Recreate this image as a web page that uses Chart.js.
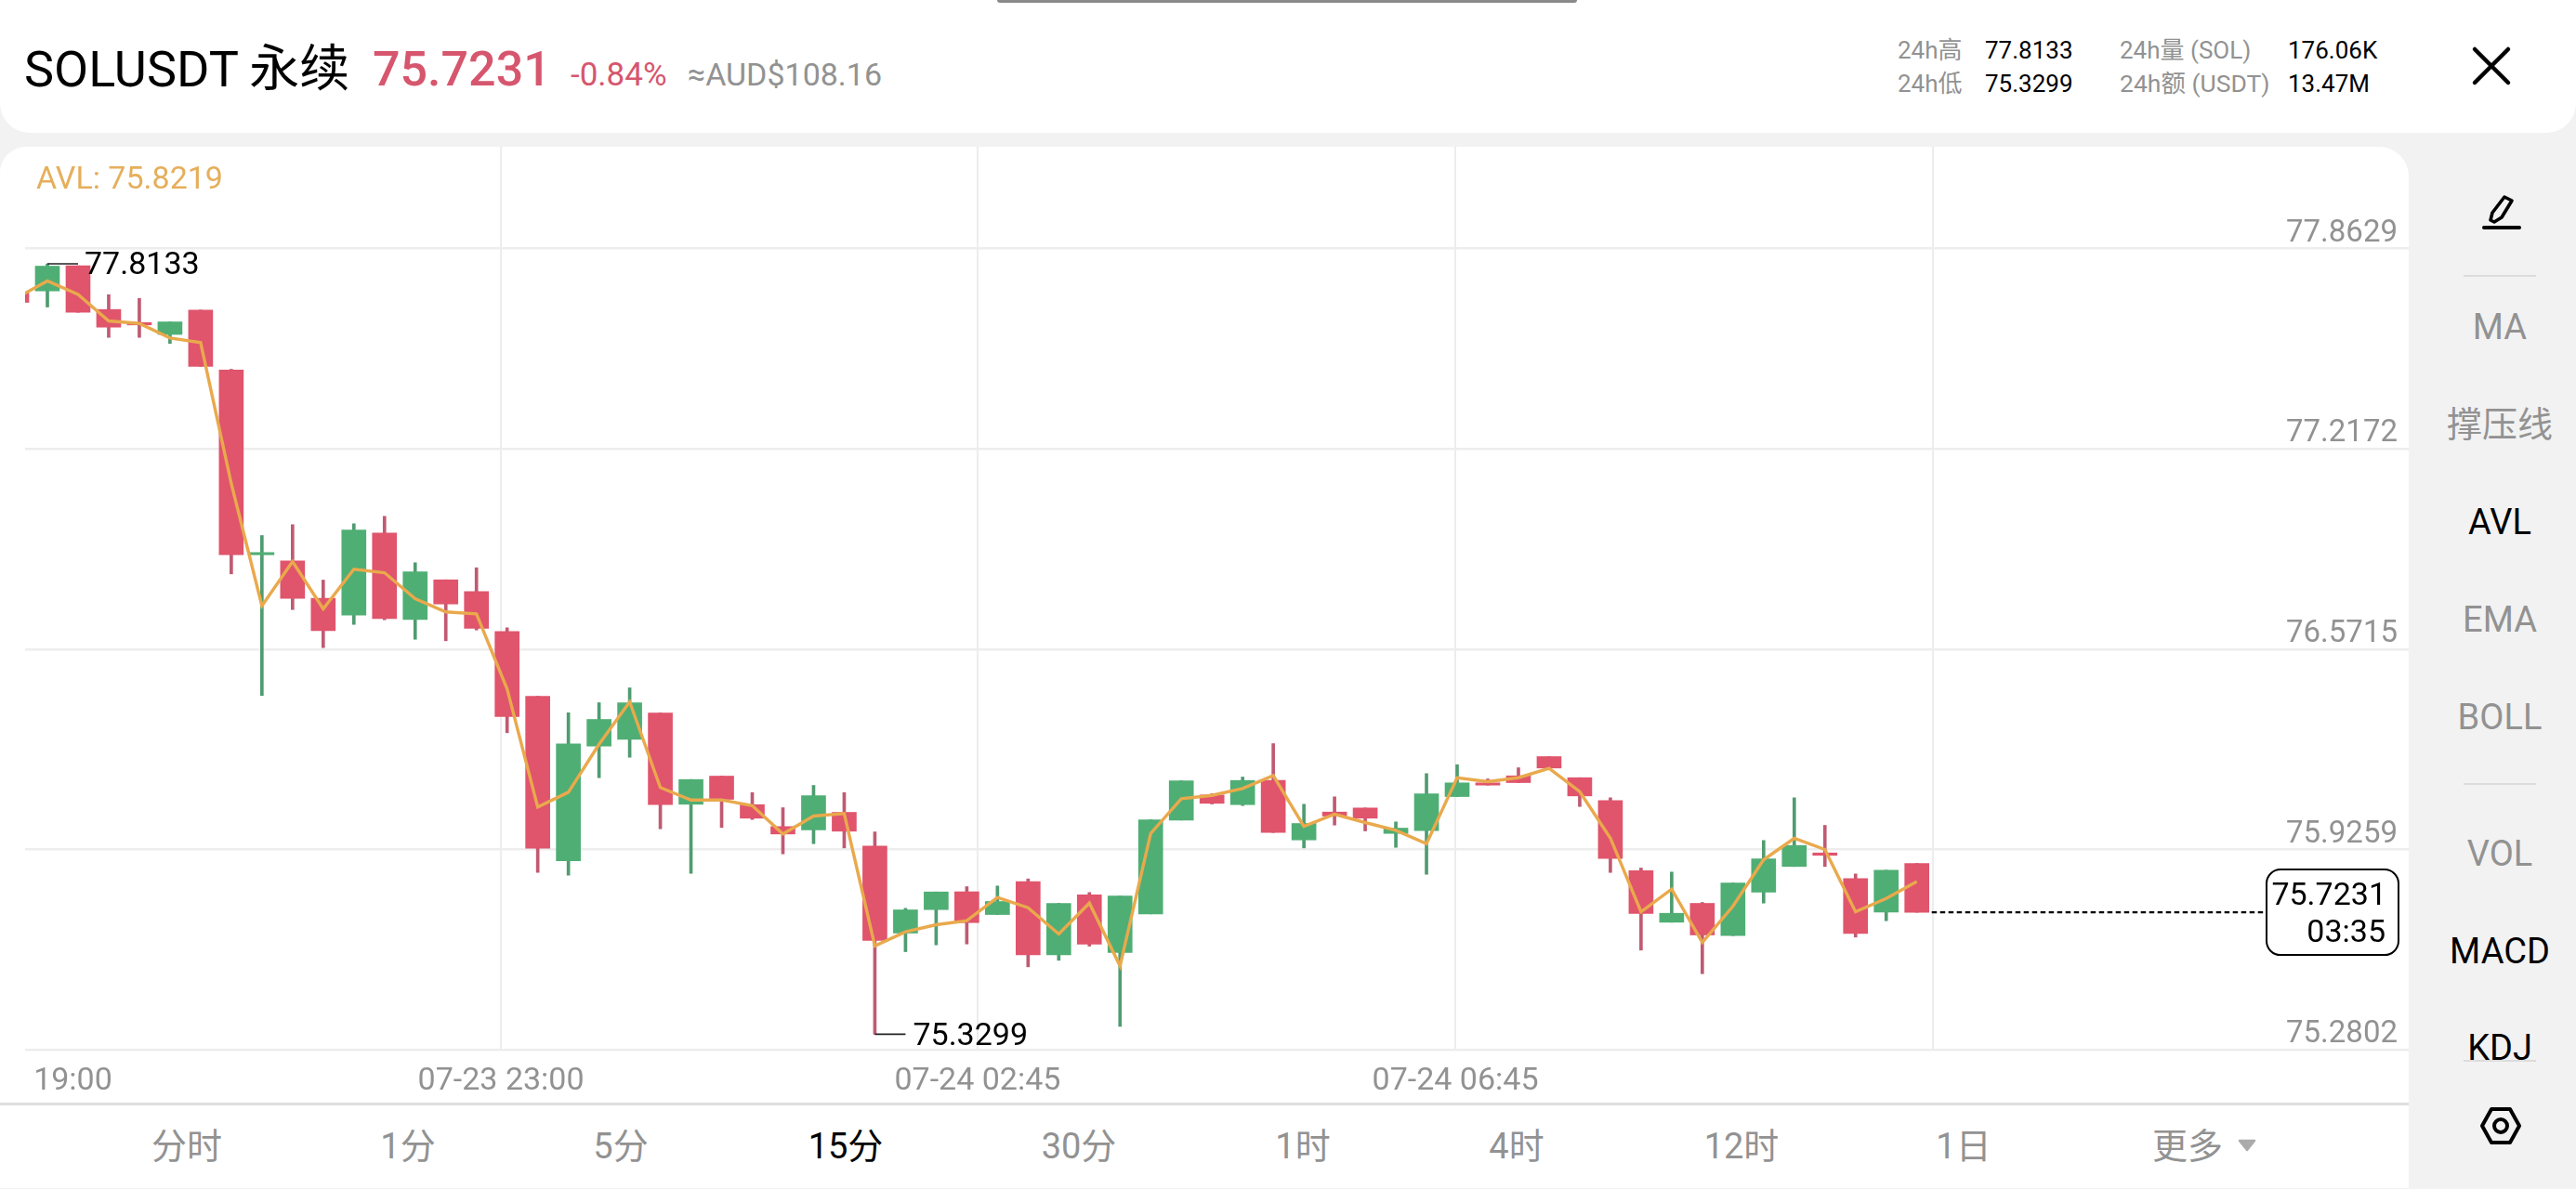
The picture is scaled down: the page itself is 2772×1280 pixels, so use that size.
<!DOCTYPE html>
<html lang="zh-CN">
<head>
<meta charset="utf-8">
<title>SOLUSDT 永续 15分</title>
<script src="https://cdn.jsdelivr.net/npm/chart.js@4/dist/chart.umd.min.js"></script>
<style>
  html, body { margin: 0; padding: 0; width: 2772px; height: 1280px; overflow: hidden; background: #f2f2f2;
    font-family: Roboto, "Noto Sans CJK SC", sans-serif; }
  .abs { position: absolute; }
  .t { position: absolute; white-space: nowrap; line-height: 1; transform: translateY(-50%); }
  .c { transform: translate(-50%, -50%); }
  .grey { color: #929292; }
  .dark { color: #000; }
  #header { left: 0; top: 0; width: 2772px; height: 143px; background: #fff; border-radius: 0 0 32px 32px; }
  #handle { left: 1073px; top: 0; width: 624px; height: 3px; background: #8a8a8a; border-radius: 0 0 3px 3px; }
  #panel { left: 0; top: 158px; width: 2592px; height: 1122px; background: #fff; border-radius: 28px 32px 0 0; }
  #chart { position: absolute; left: 0; top: 158px; }
  #tabline { left: 0; top: 1187px; width: 2592px; height: 3px; background: #dedede; }
  #footline { left: 0; top: 1279px; width: 2592px; height: 1px; background: #f1f1f1; }
  .rule { left: 2651px; width: 78px; height: 2px; background: #dcdcdc; }
  .side { font-size: 38px; left: 2690px; }
  .tab { font-size: 38px; top: 1234px; }
</style>
</head>
<body>
<div class="abs" id="header"></div>
<div class="abs" id="handle"></div>
<div class="abs" id="panel"></div>

<span class="t dark" style="left:26px;top:75px;font-size:54px;word-spacing:-1px">SOLUSDT 永续</span>
<span class="t" style="left:401px;top:75px;font-size:52px;font-weight:500;color:#d6566e">75.7231</span>
<span class="t" style="left:614px;top:80px;font-size:35px;color:#d6566e">-0.84%</span>
<span class="t grey" style="left:740px;top:80px;font-size:34px">≈AUD$108.16</span>

<span class="t grey" style="left:2042px;top:54px;font-size:26px">24h高</span>
<span class="t dark" style="left:2136px;top:54px;font-size:26px">77.8133</span>
<span class="t grey" style="left:2281px;top:54px;font-size:26px">24h量 (SOL)</span>
<span class="t dark" style="left:2462px;top:54px;font-size:26px">176.06K</span>
<span class="t grey" style="left:2042px;top:90px;font-size:26px">24h低</span>
<span class="t dark" style="left:2136px;top:90px;font-size:26px">75.3299</span>
<span class="t grey" style="left:2281px;top:90px;font-size:26.5px">24h额 (USDT)</span>
<span class="t dark" style="left:2462px;top:90px;font-size:26px">13.47M</span>

<svg class="abs" style="left:2655px;top:45px" width="52" height="52" viewBox="0 0 52 52">
  <path d="M8 8 L44 44 M44 8 L8 44" stroke="#000" stroke-width="4.5" stroke-linecap="round" fill="none"/>
</svg>

<canvas id="chart" width="2592" height="1029"></canvas>

<div class="abs" id="tabline"></div>
<div class="abs" id="footline"></div>
<span class="t c tab grey" style="left:201px">分时</span>
<span class="t c tab grey" style="left:439px">1分</span>
<span class="t c tab grey" style="left:668px">5分</span>
<span class="t c tab dark" style="left:910px">15分</span>
<span class="t c tab grey" style="left:1161px">30分</span>
<span class="t c tab grey" style="left:1402px">1时</span>
<span class="t c tab grey" style="left:1632px">4时</span>
<span class="t c tab grey" style="left:1874px">12时</span>
<span class="t c tab grey" style="left:2113px">1日</span>
<span class="t c tab grey" style="left:2354px">更多</span>
<svg class="abs" style="left:2408px;top:1226px" width="20" height="14" viewBox="0 0 20 14">
  <path d="M2 2 H18 L10 12 Z" fill="#ababab" stroke="#ababab" stroke-width="2.5" stroke-linejoin="round"/>
</svg>

<svg class="abs" style="left:2670px;top:206px" width="44" height="44" viewBox="0 0 44 44">
  <path d="M10 31 L12 23 L25 6 L33 10 L22 28 L14 33 Z" stroke="#000" stroke-width="3.6" fill="none" stroke-linejoin="round"/>
  <path d="M3 39 H41" stroke="#000" stroke-width="4" stroke-linecap="round"/>
</svg>
<div class="abs rule" style="top:296px"></div>
<span class="t c side grey" style="top:352px">MA</span>
<span class="t c side grey" style="top:457px">撑压线</span>
<span class="t c side dark" style="top:562px">AVL</span>
<span class="t c side grey" style="top:667px">EMA</span>
<span class="t c side grey" style="top:772px">BOLL</span>
<div class="abs rule" style="top:843px"></div>
<span class="t c side grey" style="top:919px">VOL</span>
<span class="t c side dark" style="top:1024px">MACD</span>
<div class="abs" style="left:2640px;top:1100px;width:100px;height:42px;overflow:hidden">
  <span class="t c side dark" style="left:50px;top:28px">KDJ</span>
</div>
<div class="abs rule" style="top:1141px"></div>
<svg class="abs" style="left:2668px;top:1190px" width="46" height="44" viewBox="0 0 46 44">
  <path d="M13 4 H33 L43 22 L33 40 H13 L3 22 Z" stroke="#000" stroke-width="4" fill="none" stroke-linejoin="round"/>
  <circle cx="23" cy="22" r="7" stroke="#000" stroke-width="4" fill="none"/>
</svg>

<script>
// 15-minute SOLUSDT perpetual candles, oldest first (the first one sits at the clipped left edge).
const opens = [77.7222,77.7261,77.8069,77.6662,77.6242,77.5859,77.6644,77.4715,76.8756,76.8559,76.7349,76.6810,76.9457,76.6672,76.7948,76.7570,76.6283,76.4196,75.8887,76.2588,76.2809,76.3656,76.0713,76.1620,76.0701,75.9994,75.9883,76.0452,75.9365,75.6560,75.7317,75.7892,75.7158,75.8216,75.5862,75.7796,75.5931,75.7179,76.0204,76.1012,76.0701,76.1480,75.9563,76.0462,76.0593,75.9773,75.9862,76.0961,76.1402,76.1629,76.2249,76.1569,76.0833,75.8575,75.6910,75.7518,75.6479,75.7877,75.8707,75.9144,75.8317,75.7239,75.8805];
const highs = [77.7222,77.8133,77.8069,77.7141,77.7021,77.6263,77.6644,77.4736,76.9376,76.9726,76.7939,76.9756,76.9996,76.8499,76.7948,76.8337,76.6402,76.4196,76.3665,76.3986,76.4465,76.3656,76.1510,76.1620,76.1090,76.0602,76.1321,76.1090,75.9824,75.7359,75.7886,75.8057,75.8078,75.8306,75.7518,75.7868,75.7757,76.0213,76.1471,76.1051,76.1590,76.2668,76.0713,76.0952,76.0593,76.0144,76.1701,76.1989,76.1530,76.1890,76.2249,76.1569,76.0922,75.8656,75.8527,75.7548,75.8177,75.9545,76.0922,76.0033,75.8467,75.8587,75.8805];
const lows = [77.6892,77.6742,77.6572,77.5763,77.5763,77.5566,77.4826,76.8139,76.4217,76.6989,76.5762,76.6510,76.6660,76.6031,76.5983,76.6331,76.3019,75.8515,75.8425,76.1569,76.2228,75.9922,75.8485,75.9964,76.0222,75.9114,75.9443,75.9305,75.3299,75.5961,75.6180,75.6209,75.7158,75.5473,75.5682,75.6140,75.3556,75.7179,76.0204,76.0722,76.0671,75.9803,75.9305,76.0042,75.9853,75.9323,75.8455,76.0961,76.1330,76.1411,76.1881,76.0641,75.8515,75.6011,75.6910,75.5251,75.6479,75.7527,75.8707,75.8707,75.6431,75.6958,75.7231];
const closes = [77.6892,77.8060,77.6572,77.6093,77.6165,77.6263,77.4826,76.8756,76.8828,76.7349,76.6313,76.9556,76.6702,76.8208,76.7169,76.6382,76.3537,75.9294,76.2659,76.3447,76.3986,76.0701,76.1510,76.0872,76.0264,75.9754,76.0991,75.9845,75.6320,75.7308,75.7886,75.6898,75.7578,75.5862,75.7518,75.6200,75.7757,76.0213,76.1471,76.0743,76.1480,75.9803,76.0093,76.0333,76.0264,75.9943,76.1051,76.1402,76.1330,76.1411,76.1881,76.0982,75.8964,75.7188,75.7198,75.6500,75.8177,75.8955,75.9384,75.9066,75.6551,75.8587,75.7231];
// Average line over the same candles.
const avl = [77.7042,77.7581,77.7147,77.6293,77.6212,77.5745,77.5596,77.1053,76.7109,76.8538,76.7010,76.8289,76.8178,76.7340,76.6912,76.6852,76.4435,76.0623,76.1102,76.2647,76.4016,76.1252,76.0851,76.0851,76.0671,75.9754,76.0333,76.0413,75.6149,75.6599,75.6829,75.6958,75.7707,75.7377,75.6530,75.7527,75.5502,75.9773,76.0892,76.1000,76.1222,76.1641,76.0003,76.0392,76.0123,75.9874,75.9443,76.1569,76.1441,76.1569,76.1869,76.1120,75.9623,75.7248,75.7976,75.6260,75.7428,75.8925,75.9614,75.9255,75.7248,75.7677,75.8219];

const priceTicks = [75.2802, 75.9259, 76.5715, 77.2172, 77.8629];
const timeLabels = ['19:00', '07-23 23:00', '07-24 02:45', '07-24 06:45', ''];
const timeTickSlots = [0.55, 15.8, 31.35, 46.94, 62.52];
const lastPriceCountdown = '03:35';

const UP = '#4fae74';
const DOWN = '#e0546c';
const UP_WICK = '#4f9c70';
const DOWN_WICK = '#c05a72';
const AVL_COLOR = '#e9a94c';
const GRID = '#ededed';
const LABEL_GREY = '#929292';
const FONT = 'Roboto, "Noto Sans CJK SC", sans-serif';

const isUp = i => closes[i] >= opens[i];
const bodyPoints = opens.map((o, i) => ({ x: i, y: [o, closes[i]] }));
const wickPoints = lows.map((l, i) => ({ x: i, y: [l, highs[i]] }));
const avlPoints = avl.map((v, i) => ({ x: i, y: v }));

// Extreme-price callouts, the last-price line with its countdown box and the AVL readout.
const overlays = {
  id: 'overlays',
  afterDatasetsDraw(chart) {
    const { ctx, scales: { x, y }, chartArea } = chart;
    const maxHigh = Math.max(...highs);
    const minLow = Math.min(...lows);
    const hi = highs.indexOf(maxHigh);
    const lo = lows.indexOf(minLow);
    const last = closes.length - 1;
    const lastClose = closes[last];

    ctx.save();
    ctx.textBaseline = 'middle';
    ctx.font = '34px ' + FONT;
    ctx.lineWidth = 1.6;
    ctx.strokeStyle = '#222';
    ctx.fillStyle = '#000';

    const hy = y.getPixelForValue(maxHigh);
    const hx = x.getPixelForValue(hi);
    ctx.beginPath(); ctx.moveTo(hx, hy); ctx.lineTo(hx + 33, hy); ctx.stroke();
    ctx.textAlign = 'left';
    ctx.fillText(maxHigh.toFixed(4), hx + 40, hy + 2);

    const ly = y.getPixelForValue(minLow);
    const lx = x.getPixelForValue(lo);
    ctx.beginPath(); ctx.moveTo(lx, ly); ctx.lineTo(lx + 33, ly); ctx.stroke();
    ctx.fillText(minLow.toFixed(4), lx + 41, ly + 3);

    const cy = y.getPixelForValue(lastClose);
    const startX = x.getPixelForValue(last) + 16;
    const boxLeft = 2439, boxRight = 2581, boxH = 92;
    ctx.strokeStyle = '#000';
    ctx.lineWidth = 2.2;
    ctx.setLineDash([5.5, 3.5]);
    ctx.beginPath(); ctx.moveTo(startX, cy); ctx.lineTo(boxLeft - 3, cy); ctx.stroke();
    ctx.setLineDash([]);
    ctx.lineWidth = 2;
    ctx.beginPath();
    ctx.roundRect(boxLeft, cy - boxH / 2, boxRight - boxLeft, boxH, 15);
    ctx.fillStyle = '#fff';
    ctx.fill();
    ctx.stroke();
    ctx.fillStyle = '#000';
    ctx.textAlign = 'right';
    ctx.fillText(lastClose.toFixed(4), 2568, cy - 17);
    ctx.fillText(lastPriceCountdown, 2567, cy + 23);

    ctx.textAlign = 'left';
    ctx.fillStyle = '#e6ae5c';
    ctx.fillText('AVL: ' + avl[last].toFixed(4), 39, chartArea.top + 36);
    ctx.restore();
  }
};

new Chart(document.getElementById('chart'), {
  data: {
    datasets: [
      {
        type: 'line', label: 'AVL', data: avlPoints, order: 0,
        borderColor: AVL_COLOR, borderWidth: 3.4, pointRadius: 0, tension: 0
      },
      {
        type: 'bar', label: 'body', data: bodyPoints, order: 1, grouped: false,
        barThickness: 26, backgroundColor: opens.map((_, i) => isUp(i) ? UP : DOWN)
      },
      {
        type: 'bar', label: 'wick', data: wickPoints, order: 2, grouped: false,
        barThickness: 3, backgroundColor: opens.map((_, i) => isUp(i) ? UP_WICK : DOWN_WICK)
      }
    ]
  },
  options: {
    responsive: false,
    animation: false,
    events: [],
    layout: { autoPadding: false, padding: { left: 27, right: 0, top: 0, bottom: 0 } },
    plugins: { legend: { display: false }, tooltip: { enabled: false }, title: { display: false } },
    scales: {
      x: {
        type: 'linear', min: 0.2723, max: 78.05, offset: false,
        border: { display: false },
        grid: {
          offset: false,
          color: ctx => ctx.index === 0 ? 'rgba(0,0,0,0)' : GRID,
          lineWidth: 2, drawTicks: false
        },
        afterBuildTicks: s => { s.ticks = timeTickSlots.map(value => ({ value })); },
        afterFit: s => { s.height = 57; s.paddingLeft = 0; s.paddingRight = 0; },
        ticks: {
          autoSkip: false, maxRotation: 0, minRotation: 0, align: 'inner', padding: 14,
          color: LABEL_GREY, font: { family: FONT, size: 34 },
          callback: (_, i) => timeLabels[i]
        }
      },
      y: {
        type: 'linear', position: 'right', min: 75.2802, max: 78.1908,
        border: { display: false },
        grid: { color: GRID, lineWidth: 2.5, drawTicks: false },
        afterBuildTicks: s => { s.ticks = priceTicks.map(value => ({ value })); },
        afterFit: s => { s.width = 0; s.paddingTop = 0; s.paddingBottom = 0; },
        ticks: {
          mirror: true, padding: -12, labelOffset: -16,
          color: LABEL_GREY, font: { family: FONT, size: 33 },
          callback: v => v.toFixed(4)
        }
      }
    }
  },
  plugins: [overlays]
});
</script>
</body>
</html>
